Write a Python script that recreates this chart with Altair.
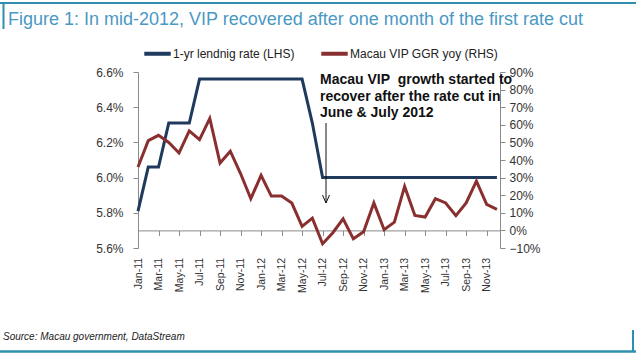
import altair as alt
import pandas as pd

# ---------------- data ----------------
months = ["Jan-11", "Feb-11", "Mar-11", "Apr-11", "May-11", "Jun-11",
          "Jul-11", "Aug-11", "Sep-11", "Oct-11", "Nov-11", "Dec-11",
          "Jan-12", "Feb-12", "Mar-12", "Apr-12", "May-12", "Jun-12",
          "Jul-12", "Aug-12", "Sep-12", "Oct-12", "Nov-12", "Dec-12",
          "Jan-13", "Feb-13", "Mar-13", "Apr-13", "May-13", "Jun-13",
          "Jul-13", "Aug-13", "Sep-13", "Oct-13", "Nov-13", "Dec-13"]

lending_rate = [5.81, 6.06, 6.06, 6.31, 6.31, 6.31, 6.56, 6.56, 6.56, 6.56, 6.56, 6.56,
                6.56, 6.56, 6.56, 6.56, 6.56, 6.31, 6.00, 6.00, 6.00, 6.00, 6.00, 6.00,
                6.00, 6.00, 6.00, 6.00, 6.00, 6.00, 6.00, 6.00, 6.00, 6.00, 6.00, 6.00]

vip_ggr_yoy = [36, 51, 54, 50, 44, 56.5, 51.6, 63.6, 38.3, 45, 32.3, 18,
               31.3, 19.5, 19.5, 15.5, 2.3, 7, -7.6, -1.3, 6.6, -4.8, -0.8, 15.6,
               0.4, 4.7, 25, 8.5, 7.6, 18, 15.6, 8.4, 15.6, 28, 14.8, 12]

series_names = ["1-yr lendnig rate (LHS)", "Macau VIP GGR yoy (RHS)"]
series_colors = ["#1f3a5c", "#8a2f2f"]

left_ticks = [5.6, 5.8, 6.0, 6.2, 6.4, 6.6]
right_ticks = [-10, 0, 10, 20, 30, 40, 50, 60, 70, 80, 90]
x_label_positions = list(range(0, 36, 2))

title_text = "Figure 1: In mid-2012, VIP recovered after one month of the first rate cut"
source_text = "Source: Macau government, DataStream"
note_lines = ["Macau VIP\u00a0 growth started to", "recover after the rate cut in", "June & July 2012"]

# ---------------- frames ----------------
idx = list(range(len(months)))
df_rate = pd.DataFrame({"idx": idx, "month": months, "value": lending_rate,
                        "series": series_names[0]})
df_vip = pd.DataFrame({"idx": idx, "month": months, "value": vip_ggr_yoy,
                       "series": series_names[1]})
one = pd.DataFrame({"k": [0]})

FONT = "Liberation Sans"
TEAL = "#2f8fae"
AXIS_GREY = "#8a8a8a"

W, H = 362, 176
PAD_L, PAD_T = 138, 72

label_array = "[" + ",".join("'" + m + "'" for m in months) + "]"

x_axis = alt.Axis(values=x_label_positions, labelExpr=label_array + "[datum.value]",
                  labelAngle=-90, labelFont=FONT, labelFontSize=10.5, labelColor="#333333",
                  labelPadding=22, tickSize=5, tickColor=AXIS_GREY, domainColor=AXIS_GREY,
                  offset=-17.6, grid=False, title=None, labelOverlap=False, labelFlush=False)
x_enc = alt.X("idx:Q", scale=alt.Scale(domain=[0, 35.3], nice=False, zero=False), axis=x_axis)

color_enc = alt.Color("series:N",
                      scale=alt.Scale(domain=series_names, range=series_colors),
                      legend=alt.Legend(orient="none", legendX=4, legendY=-34,
                                        direction="horizontal", title=None,
                                        symbolType="stroke", symbolSize=700,
                                        symbolStrokeWidth=4, labelFont=FONT,
                                        labelFontSize=12, labelColor="#222222",
                                        labelOffset=0, columnPadding=18))

rate_line = alt.Chart(df_rate).mark_line(strokeWidth=3).encode(
    x=x_enc,
    y=alt.Y("value:Q", scale=alt.Scale(domain=[5.6, 6.6], nice=False, zero=False),
            axis=alt.Axis(orient="left", values=left_ticks,
                          labelExpr="format(datum.value, '.1f') + '%'",
                          labelFont=FONT, labelFontSize=12, labelColor="#333333",
                          labelPadding=10, tickSize=5, tickColor=AXIS_GREY,
                          domainColor=AXIS_GREY, grid=False, title=None)),
    color=color_enc,
)

vip_line = alt.Chart(df_vip).mark_line(strokeWidth=3).encode(
    x=x_enc,
    y=alt.Y("value:Q", scale=alt.Scale(domain=[-10, 90], nice=False, zero=False),
            axis=alt.Axis(orient="right", values=right_ticks,
                          labelExpr="format(datum.value, '.0f') + '%'",
                          labelFont=FONT, labelFontSize=12, labelColor="#333333",
                          labelPadding=4, tickSize=5, tickColor=AXIS_GREY,
                          domainColor=AXIS_GREY, grid=False, title=None)),
    color=color_enc,
)

lines = alt.layer(rate_line, vip_line).resolve_scale(y="independent")

# ---------------- decorations (page frame, title, note, source) ----------------
base = alt.Chart(one)

top_border = base.mark_rule(color=TEAL, strokeWidth=2).encode(
    x=alt.value(-PAD_L), x2=alt.value(636 - PAD_L), y=alt.value(3 - PAD_T))
left_bar = base.mark_rule(color=TEAL, strokeWidth=2).encode(
    x=alt.value(3.5 - PAD_L), y=alt.value(3 - PAD_T), y2=alt.value(29 - PAD_T))
bottom_border = base.mark_rule(color=TEAL, strokeWidth=2.5).encode(
    x=alt.value(-PAD_L), x2=alt.value(636 - PAD_L), y=alt.value(351.5 - PAD_T))
right_bar = base.mark_rule(color=TEAL, strokeWidth=2).encode(
    x=alt.value(633 - PAD_L), y=alt.value(330 - PAD_T), y2=alt.value(352 - PAD_T))

title = base.mark_text(align="left", baseline="alphabetic", font=FONT, fontSize=18,
                       color="#4a98c4").encode(
    x=alt.value(8 - PAD_L), y=alt.value(25 - PAD_T), text=alt.value(title_text))

source = base.mark_text(align="left", baseline="alphabetic", font=FONT, fontSize=10,
                        fontStyle="italic", color="#222222").encode(
    x=alt.value(3 - PAD_L), y=alt.value(340 - PAD_T), text=alt.value(source_text))

note = base.mark_text(align="left", baseline="alphabetic", font=FONT, fontSize=14,
                      fontWeight="bold", color="#111111", lineHeight=16.7).encode(
    x=alt.value(320 - PAD_L), y=alt.value(84 - PAD_T), text=alt.value(note_lines))

arrow_shaft = base.mark_rule(color="#111111", strokeWidth=1).encode(
    x=alt.value(326 - PAD_L), y=alt.value(123 - PAD_T), y2=alt.value(203 - PAD_T))
arrow_head = base.mark_point(shape="M-0.875,-2L0,0L0.875,-2", size=64, filled=False,
                             color="#111111", strokeWidth=1, opacity=1).encode(
    x=alt.value(326 - PAD_L), y=alt.value(203 - PAD_T))

chart = alt.layer(
    lines, top_border, left_bar, bottom_border, right_bar, title, source,
    note, arrow_shaft, arrow_head
).properties(
    width=W, height=H,
    padding={"left": PAD_L, "top": PAD_T, "right": 636 - PAD_L - W, "bottom": 354 - PAD_T - H},
    autosize=alt.AutoSizeParams(type="none"),
    background="white",
).configure_view(stroke=None)

chart.save("out.html", embed_options={"renderer": "svg", "actions": False})
